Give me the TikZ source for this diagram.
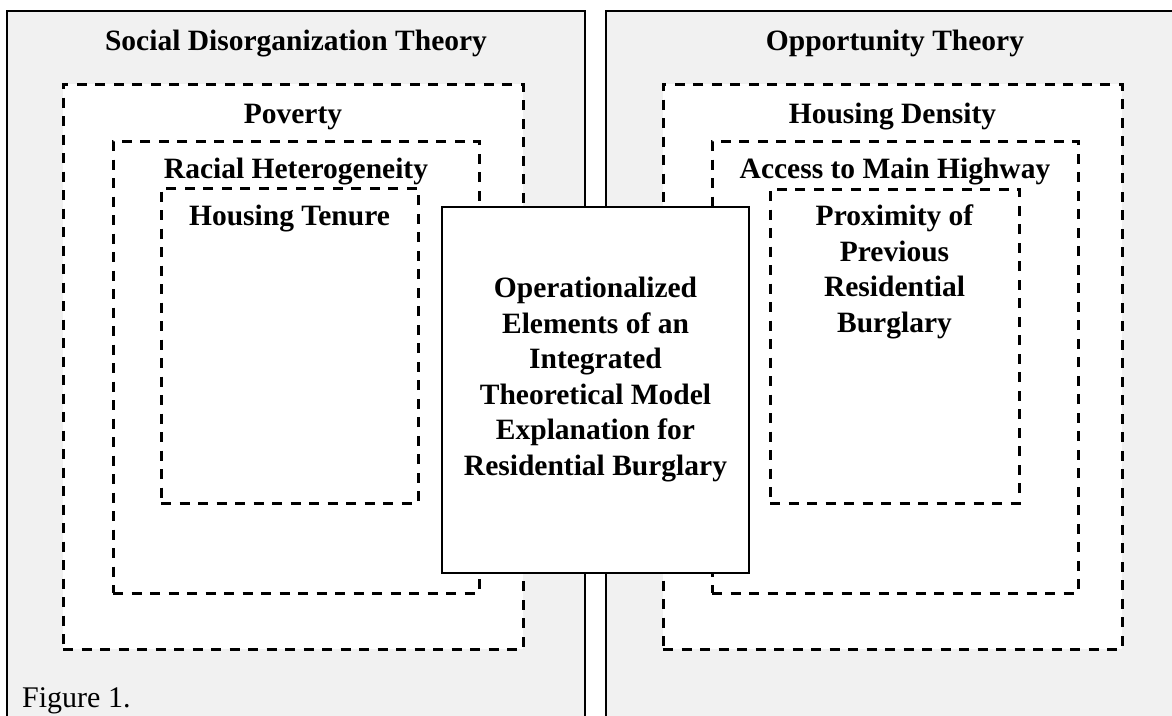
\documentclass[tikz,border=0pt]{standalone}
\usepackage{fontspec}
\setmainfont{Liberation Serif}
\usetikzlibrary{positioning}

\definecolor{panelgray}{HTML}{F1F1F1}

\tikzset{
  panel/.style={draw, line width=2.6pt, fill=panelgray, anchor=north west,
    inner sep=0pt, outer sep=0pt},
  factor/.style={draw, line width=3pt, dash pattern=on 10pt off 8.5pt,
    fill=white, anchor=north west, inner sep=0pt, outer sep=0pt},
  core/.style={draw, line width=2.6pt, fill=white, anchor=north west,
    inner sep=0pt, outer sep=0pt},
  heading/.style={font=\fontsize{29.5}{35.5}\selectfont\bfseries, anchor=base,
    inner sep=0pt, align=center},
}

\begin{document}
\begin{tikzpicture}[x=1pt, y=-1pt]
  \clip (0,0) rectangle (1172,715);
  \fill[white] (0,0) rectangle (1172,715);

  % two theory panels, open at the bottom
  \node[panel, minimum width=578pt, minimum height=760pt] (sdt) at (7,11) {};
  \node[panel, minimum width=578pt, minimum height=760pt] (opp) at (606,11) {};
  \node[heading] (sdtlabel) at ([yshift=-39pt]sdt.north) {Social Disorganization Theory};
  \node[heading] (opplabel) at ([yshift=-39pt]opp.north) {Opportunity Theory};

  % nested factors, left side
  \node[factor, minimum width=460pt, minimum height=565pt] (poverty) at (63,84) {};
  \node[heading] (povertylabel) at ([yshift=-39pt]poverty.north) {Poverty};
  \node[factor, minimum width=366pt, minimum height=452pt] (racial) at (113,141) {};
  \node[heading] (raciallabel) at ([yshift=-37pt]racial.north) {Racial Heterogeneity};
  \node[factor, minimum width=257pt, minimum height=315pt] (tenure) at (161,188) {};
  \node[heading] (tenurelabel) at ([yshift=-37pt]tenure.north) {Housing Tenure};

  % nested factors, right side
  \node[factor, minimum width=459pt, minimum height=565pt] (density) at (663,84) {};
  \node[heading] (densitylabel) at ([yshift=-39pt]density.north) {Housing Density};
  \node[factor, minimum width=366pt, minimum height=452pt] (highway) at (712,141) {};
  \node[heading] (highwaylabel) at ([yshift=-37pt]highway.north) {Access to Main Highway};
  \node[factor, minimum width=249pt, minimum height=314pt] (proximity) at (770,189) {};
  \node[heading, anchor=north] (proximitylabel) at ([yshift=-16pt]proximity.north)
    {Proximity of\\Previous\\Residential\\Burglary};

  % integrated model in the middle
  \node[core, minimum width=307pt, minimum height=366pt] (model) at (442,207) {};
  \node[heading, anchor=north] (modellabel) at ([yshift=-70pt]model.north)
    {Operationalized\\Elements of an\\Integrated\\Theoretical Model\\Explanation for\\Residential Burglary};

  \node[font=\fontsize{30}{36}\selectfont, anchor=base west, inner sep=0pt] (caption)
    at (22,707) {Figure 1.};
\end{tikzpicture}
\end{document}
